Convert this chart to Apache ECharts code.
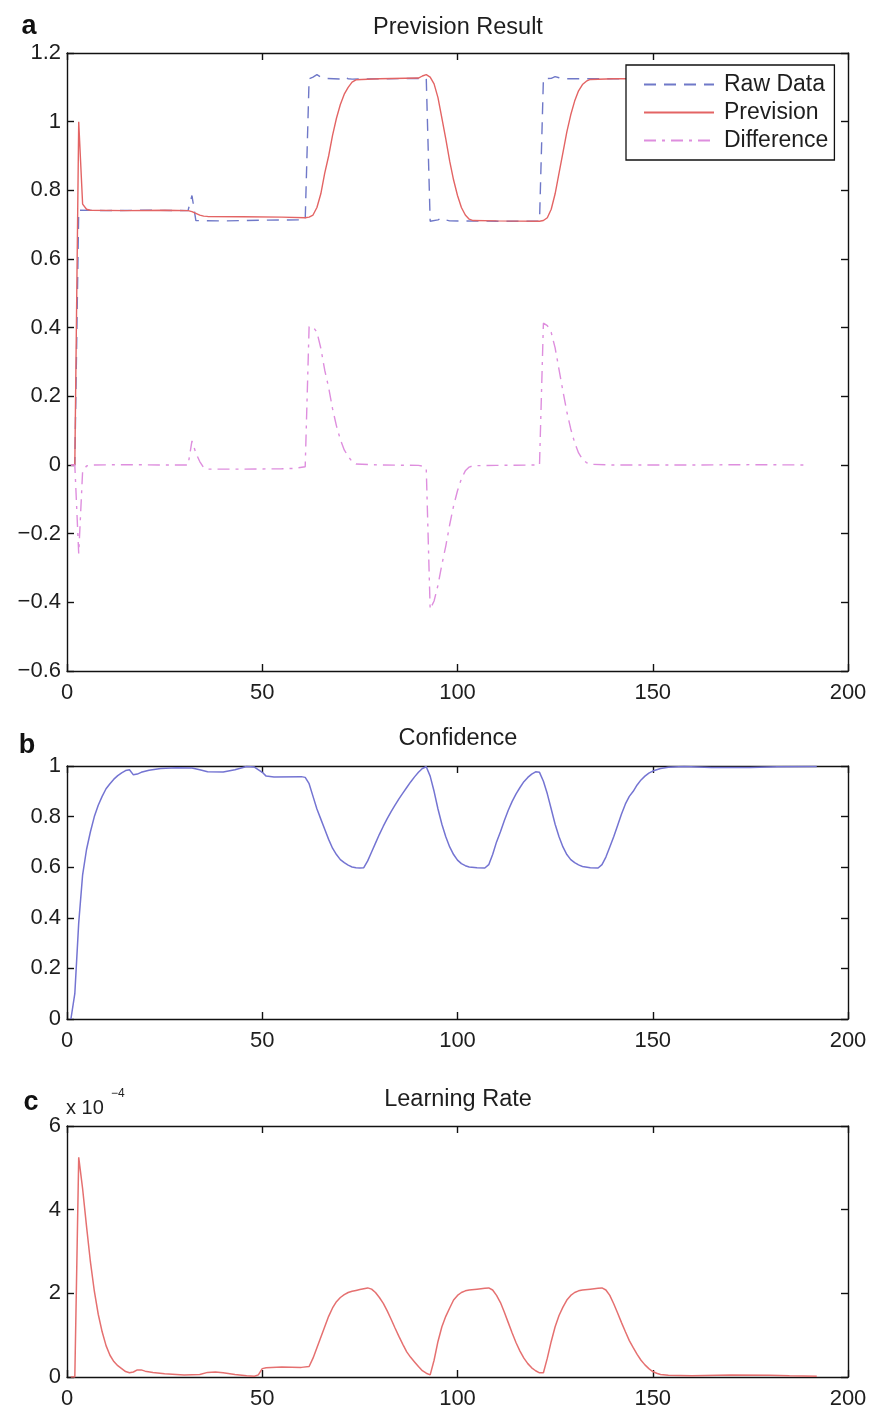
<!DOCTYPE html>
<html><head><meta charset="utf-8">
<script src="https://cdn.jsdelivr.net/npm/echarts@6/dist/echarts.min.js"></script>
<style>html,body{margin:0;padding:0;background:#fff}#c{width:872px;height:1412px}</style>
</head><body><div id="c"></div>
<script>
// ---------- data ----------
const xTicks = [0, 50, 100, 150, 200];
const seriesNamesA = ['Raw Data', 'Prevision', 'Difference'];

const rawData = [[1,0],[2,0],[3,0.742],[10,0.741],[20,0.742],[31,0.741],[32,0.785],[33,0.712],[40,0.711],[50,0.713],[61,0.714],
  [62,1.125],[63,1.13],[64,1.137],[65,1.13],[66,1.126],[70,1.124],[71,1.13],[72,1.125],[73,1.124],[80,1.125],[92,1.126],
  [93,0.71],[95,0.714],[96,0.72],[97,0.714],[98,0.711],[110,0.71],[121,0.71],
  [122,1.125],[124,1.126],[125,1.131],[126,1.128],[127,1.125],[140,1.125],[160,1.125],[190,1.125]];

const prevision = [[1,0],[2,0],[3,1.0],[4,0.76],[5,0.745],[6,0.742],[15,0.741],[25,0.742],[31,0.741],[32,0.738],[33,0.733],
  [34,0.728],[35,0.725],[36,0.724],[45,0.723],[55,0.722],[61,0.72],[62,0.722],[63,0.728],[64,0.75],[65,0.79],[66,0.85],
  [67,0.9],[68,0.96],[69,1.01],[70,1.05],[71,1.08],[72,1.1],[73,1.115],[74,1.122],[80,1.125],[90,1.127],[91,1.133],
  [92,1.137],[93,1.13],[94,1.11],[95,1.07],[96,1.01],[97,0.95],[98,0.885],[99,0.83],[100,0.785],[101,0.75],[102,0.728],
  [103,0.716],[104,0.712],[110,0.711],[121,0.71],[122,0.712],[123,0.72],[124,0.745],[125,0.79],[126,0.85],[127,0.91],
  [128,0.97],[129,1.02],[130,1.06],[131,1.09],[132,1.108],[133,1.118],[134,1.123],[140,1.125],[160,1.125],[190,1.125]];

const difference = [[1,0],[2,0],[3,-0.258],[4,-0.018],[5,-0.003],[6,0],[15,0.001],[25,0],[31,0],[32,0.07],[33,0.035],
  [34,0.01],[35,-0.008],[36,-0.012],[45,-0.012],[55,-0.011],[58,-0.01],[61,-0.005],[62,0.403],[63,0.402],[64,0.387],
  [65,0.34],[66,0.276],[67,0.226],[68,0.164],[69,0.114],[70,0.074],[71,0.044],[72,0.025],[73,0.01],[74,0.003],[80,0],
  [90,-0.001],[91,-0.003],[92,-0.011],[93,-0.42],[94,-0.396],[95,-0.35],[96,-0.29],[97,-0.236],[98,-0.174],[99,-0.119],
  [100,-0.075],[101,-0.04],[102,-0.017],[103,-0.006],[104,-0.002],[110,-0.001],[121,0],[122,0.413],[123,0.406],
  [124,0.386],[125,0.341],[126,0.278],[127,0.215],[128,0.155],[129,0.105],[130,0.065],[131,0.035],[132,0.017],
  [133,0.007],[134,0.002],[140,0],[160,0],[175,0.001],[190,0]];

const confidence = [[1,0],[2,0.1],[3,0.38],[4,0.57],[5,0.67],[6,0.74],[7,0.8],[8,0.845],[9,0.88],[10,0.91],[11,0.93],
  [12,0.948],[13,0.962],[14,0.973],[15,0.982],[16,0.985],[17,0.965],[18,0.968],[19,0.975],[21,0.983],[24,0.99],
  [28,0.993],[32,0.992],[34,0.985],[36,0.977],[40,0.976],[43,0.985],[46,0.998],[48,0.996],[50,0.975],[51,0.96],
  [53,0.957],[60,0.958],[61,0.955],[62,0.93],[63,0.88],[64,0.83],[65,0.79],[66,0.75],[67,0.71],[68,0.675],[69,0.65],
  [70,0.63],[71,0.618],[72,0.608],[73,0.601],[74,0.598],[75,0.597],[76,0.598],[77,0.625],[78,0.66],[79,0.695],[80,0.73],
  [81,0.762],[82,0.792],[83,0.82],[84,0.845],[85,0.87],[86,0.893],[87,0.915],[88,0.937],[89,0.957],[90,0.975],[91,0.99],
  [92,0.997],[93,0.96],[94,0.9],[95,0.83],[96,0.77],[97,0.72],[98,0.68],[99,0.65],[100,0.628],[101,0.614],[102,0.606],
  [103,0.601],[105,0.598],[107,0.597],[108,0.61],[109,0.65],[110,0.7],[111,0.74],[112,0.785],[113,0.825],[114,0.86],
  [115,0.89],[116,0.915],[117,0.938],[118,0.955],[119,0.968],[120,0.977],[121,0.975],[122,0.94],[123,0.89],[124,0.83],
  [125,0.77],[126,0.72],[127,0.68],[128,0.65],[129,0.63],[130,0.618],[131,0.609],[132,0.603],[134,0.598],[136,0.597],
  [137,0.61],[138,0.64],[139,0.68],[140,0.72],[141,0.765],[142,0.81],[143,0.85],[144,0.88],[145,0.9],[146,0.925],
  [147,0.945],[148,0.96],[149,0.972],[150,0.98],[152,0.99],[154,0.995],[158,0.998],[165,0.994],[175,0.994],
  [182,0.997],[192,0.998]];

// learning rate, in units of 1e-4
const learningRateE4 = [[1,0],[2,0],[3,5.25],[4,4.5],[5,3.6],[6,2.75],[7,2.05],[8,1.5],[9,1.08],[10,0.75],[11,0.52],
  [12,0.37],[13,0.27],[14,0.2],[15,0.13],[16,0.1],[17,0.12],[18,0.17],[19,0.17],[20,0.14],[22,0.11],[25,0.08],
  [30,0.05],[34,0.06],[36,0.11],[38,0.12],[40,0.1],[43,0.06],[46,0.03],[48,0.02],[49,0.05],[50,0.2],[51,0.22],
  [55,0.24],[60,0.23],[62,0.25],[63,0.45],[64,0.7],[65,0.95],[66,1.2],[67,1.45],[68,1.65],[69,1.8],[70,1.9],[71,1.97],
  [72,2.02],[73,2.05],[74,2.07],[75,2.09],[76,2.11],[77,2.13],[78,2.1],[79,2.02],[80,1.9],[81,1.76],[82,1.58],
  [83,1.38],[84,1.17],[85,0.97],[86,0.78],[87,0.6],[88,0.47],[89,0.36],[90,0.25],[91,0.15],[92,0.09],[93,0.05],
  [94,0.4],[95,0.85],[96,1.2],[97,1.45],[98,1.65],[99,1.84],[100,1.95],[101,2.02],[102,2.06],[103,2.08],[105,2.1],
  [107,2.12],[108,2.13],[109,2.08],[110,1.95],[111,1.78],[112,1.55],[113,1.3],[114,1.05],[115,0.82],[116,0.62],
  [117,0.45],[118,0.32],[119,0.22],[120,0.15],[121,0.1],[122,0.1],[123,0.45],[124,0.85],[125,1.2],[126,1.47],
  [127,1.67],[128,1.84],[129,1.95],[130,2.02],[131,2.06],[132,2.08],[134,2.1],[136,2.12],[137,2.13],[138,2.08],
  [139,1.95],[140,1.75],[141,1.53],[142,1.3],[143,1.08],[144,0.87],[145,0.7],[146,0.54],[147,0.4],[148,0.29],
  [149,0.2],[150,0.13],[151,0.09],[152,0.06],[154,0.04],[160,0.03],[170,0.05],[180,0.04],[185,0.03],[192,0.02]];

// ---------- styling / layout ----------
const FONT = '"Liberation Sans", Arial, Helvetica, sans-serif';
const TXT = '#1e1e1e';
const AXLINE = { color: '#111', width: 1.4 };
const grids = [
  { left: 67, right: 24, top: 53, height: 618 },
  { left: 67, right: 24, top: 766, height: 253 },
  { left: 67, right: 24, top: 1126, height: 251 }
];
const yRanges = [
  { min: -0.6, max: 1.2, interval: 0.2 },
  { min: 0, max: 1, interval: 0.2 },
  { min: 0, max: 6, interval: 2 }
];
const fmtNum = v => String(Number(v.toFixed(2))).replace('-', '\u2212');

const xAxis = [], yAxis = [];
grids.forEach((g, gi) => {
  ['bottom', 'top'].forEach(pos => {
    xAxis.push({
      gridIndex: gi, type: 'value', position: pos,
      min: xTicks[0], max: xTicks[xTicks.length - 1], interval: xTicks[1] - xTicks[0],
      axisLine: { show: true, onZero: false, lineStyle: AXLINE },
      axisTick: { show: true, inside: true, length: 7, lineStyle: AXLINE },
      axisLabel: { show: pos === 'bottom', margin: 11, fontSize: 22, color: TXT, fontFamily: FONT },
      splitLine: { show: false }
    });
  });
  ['left', 'right'].forEach(pos => {
    yAxis.push({
      gridIndex: gi, type: 'value', position: pos,
      min: yRanges[gi].min, max: yRanges[gi].max, interval: yRanges[gi].interval,
      axisLine: { show: true, onZero: false, lineStyle: AXLINE },
      axisTick: { show: true, inside: true, length: 7, lineStyle: AXLINE },
      axisLabel: { show: pos === 'left', margin: 6, fontSize: 22, color: TXT, fontFamily: FONT, formatter: fmtNum },
      splitLine: { show: false }
    });
  });
});

function line(name, data, gi, color, type, width) {
  return {
    name, type: 'line', data, xAxisIndex: gi * 2, yAxisIndex: gi * 2,
    symbol: 'none', showSymbol: false, smooth: false, animation: false,
    lineStyle: { color, width: width || 1.4, type: type || 'solid' },
    itemStyle: { color }
  };
}

const option = {
  backgroundColor: '#fff',
  animation: false,
  grid: grids,
  xAxis, yAxis,
  legend: {
    data: seriesNamesA, orient: 'vertical', left: 626, top: 65,
    padding: [8, 6, 8, 17], itemWidth: 70, itemHeight: 14, itemGap: 5,
    backgroundColor: '#fff', borderColor: '#111', borderWidth: 1.3,
    itemStyle: { opacity: 0 },
    textStyle: { fontSize: 23, color: TXT, fontFamily: FONT, padding: [0, 0, 0, 5] },
    selectedMode: false
  },
  series: [
    line('Raw Data', rawData, 0, '#6f78c8', [12, 8], 1.4),
    line('Prevision', prevision, 0, '#e36464', 'solid', 1.4),
    line('Difference', difference, 0, '#de8ede', [12, 6, 3, 6], 1.4),
    line('Confidence', confidence, 1, '#7474d2', 'solid', 1.5),
    line('Learning Rate', learningRateE4, 2, '#e57070', 'solid', 1.5)
  ],
  graphic: [
    { type: 'text', x: 29, y: 27, style: { text: 'a', fontSize: 27, fontWeight: 'bold', fontFamily: FONT, fill: '#111', align: 'center', verticalAlign: 'middle' } },
    { type: 'text', x: 458, y: 28, style: { text: 'Prevision Result', fontSize: 23.5, fontFamily: FONT, fill: TXT, align: 'center', verticalAlign: 'middle' } },
    { type: 'text', x: 27, y: 746, style: { text: 'b', fontSize: 27, fontWeight: 'bold', fontFamily: FONT, fill: '#111', align: 'center', verticalAlign: 'middle' } },
    { type: 'text', x: 458, y: 739, style: { text: 'Confidence', fontSize: 23.5, fontFamily: FONT, fill: TXT, align: 'center', verticalAlign: 'middle' } },
    { type: 'text', x: 31, y: 1103, style: { text: 'c', fontSize: 27, fontWeight: 'bold', fontFamily: FONT, fill: '#111', align: 'center', verticalAlign: 'middle' } },
    { type: 'text', x: 458, y: 1100, style: { text: 'Learning Rate', fontSize: 23.5, fontFamily: FONT, fill: TXT, align: 'center', verticalAlign: 'middle' } },
    { type: 'text', x: 66, y: 1108, style: { text: 'x 10', fontSize: 20, fontFamily: FONT, fill: TXT, align: 'left', verticalAlign: 'middle' } },
    { type: 'text', x: 111, y: 1094, style: { text: '\u22124', fontSize: 12, fontFamily: FONT, fill: TXT, align: 'left', verticalAlign: 'middle' } }
  ]
};

const chart = echarts.init(document.getElementById('c'), null, { renderer: 'canvas' });
chart.setOption(option);
</script>
</body></html>
